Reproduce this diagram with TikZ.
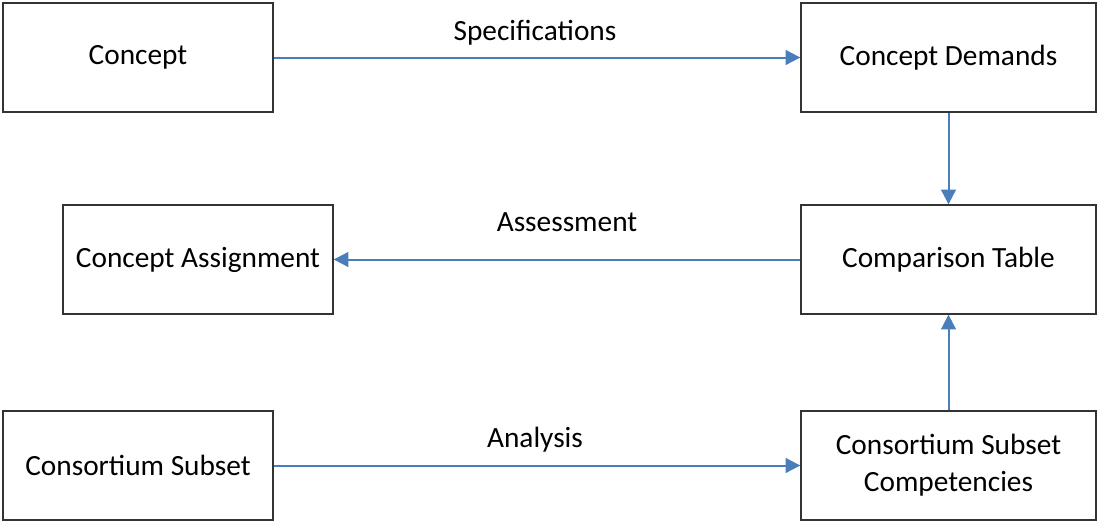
\documentclass[tikz,border=0pt]{standalone}
\usepackage{fontspec}
\setmainfont{Carlito}
\usetikzlibrary{arrows.meta}
\definecolor{flowblue}{RGB}{74,126,187}

\begin{document}
\begin{tikzpicture}[x=0.75pt,y=-0.75pt,
  box node/.style={rectangle,draw=black!80,line width=1pt,minimum width=202.5pt,
    minimum height=81.75pt,inner sep=0pt,font=\fontsize{22}{28}\selectfont,align=center},
  wide node/.style={box node,minimum width=221.25pt},
  flow/.style={draw=flowblue,line width=1.5pt,-{Triangle[length=11pt,width=11pt]}},
  label node/.style={font=\fontsize{22}{26}\selectfont}]
  \useasboundingbox (0,0) rectangle (1097,522);
  \node[box node] (concept) at (138,57.5) {Concept};
  \node[wide node] (demands) at (948.5,57.5) {Concept Demands};
  \node[box node] (assign) at (198,259.5) {Concept Assignment};
  \node[wide node] (table) at (948.5,259.5) {Comparison Table};
  \node[box node] (subset) at (138,465.5) {Consortium Subset};
  \node[wide node] (comp) at (948.5,465.5) {Consortium Subset\\[0pt]Competencies};
  \path[flow]
     (concept) edge[flow] (demands)
     (demands) edge[flow] (table)
     (table) edge[flow] (assign)
     (comp) edge[flow] (table)
     (subset) edge[flow] (comp);
  \node[label node] (spec) at (535,33) {Specifications};
  \node[label node] (assess) at (567,222) {Assessment};
  \node[label node] (anal) at (535,440) {Analysis};
\end{tikzpicture}
\end{document}
